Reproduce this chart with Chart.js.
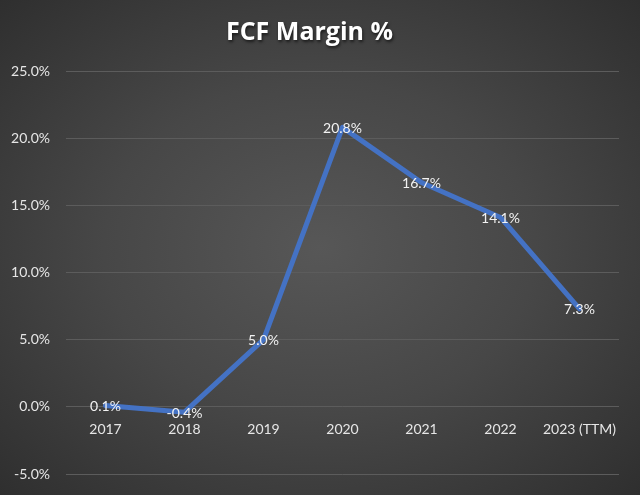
<!DOCTYPE html>
<html>
<head>
<meta charset="utf-8">
<script src="https://cdn.jsdelivr.net/npm/chart.js@4.4.1/dist/chart.umd.min.js"></script>
<style>
  html, body { margin: 0; padding: 0; }
  body {
    width: 640px; height: 495px; overflow: hidden;
    background: radial-gradient(ellipse 75% 75% at 50% 50%, #575757 0%, #474747 45%, #2c2c2c 100%);
  }
  #wrap { position: relative; width: 640px; height: 495px; }
</style>
</head>
<body>
<div id="wrap"><canvas id="c" width="640" height="495"></canvas></div>
<script>
const categories = ["2017", "2018", "2019", "2020", "2021", "2022", "2023 (TTM)"];
const fcfMargin = [0.1, -0.4, 5.0, 20.8, 16.7, 14.1, 7.3];
const yTicks = [-5, 0, 5, 10, 15, 20, 25];
const chartTitle = "FCF Margin %";

const valueLabels = {
  id: 'valueLabels',
  afterDatasetsDraw(chart) {
    const ctx = chart.ctx;
    const meta = chart.getDatasetMeta(0);
    ctx.save();
    ctx.font = '14px Lato, "Open Sans", sans-serif';
    ctx.fillStyle = '#f2f2f2';
    ctx.textAlign = 'center';
    ctx.textBaseline = 'middle';
    meta.data.forEach((pt, i) => {
      ctx.fillText(fcfMargin[i].toFixed(1) + '%', pt.x, pt.y + 1);
    });
    ctx.restore();
  }
};

const titleShadow = {
  id: 'titleShadow',
  afterInit(chart) {
    const tb = chart.titleBlock;
    if (!tb) return;
    const orig = tb.draw.bind(tb);
    tb.draw = function () {
      const ctx = chart.ctx;
      ctx.save();
      ctx.shadowColor = 'rgba(0,0,0,0.6)';
      ctx.shadowBlur = 3;
      ctx.shadowOffsetX = 1;
      ctx.shadowOffsetY = 2;
      orig();
      ctx.restore();
    };
  }
};

new Chart(document.getElementById('c'), {
  type: 'line',
  data: {
    labels: categories,
    datasets: [{
      data: fcfMargin,
      borderColor: '#4472C4',
      borderWidth: 5,
      tension: 0,
      pointRadius: 0,
      pointHoverRadius: 0,
      borderJoinStyle: 'round',
      borderCapStyle: 'round',
      fill: false
    }]
  },
  options: {
    responsive: false,
    animation: false,
    events: [],
    layout: { padding: { left: 0, right: 21, top: 0, bottom: 21 } },
    plugins: {
      legend: { display: false },
      tooltip: { enabled: false },
      title: {
        display: true,
        text: chartTitle,
        color: '#ffffff',
        font: { family: '"Open Sans", Lato, sans-serif', size: 25, weight: 'bold', lineHeight: 1.2 },
        padding: { top: 18, bottom: 23 }
      }
    },
    scales: {
      x: {
        position: { y: 0 },
        offset: true,
        afterFit(scale) { scale.height = 0; },
        grid: { display: false, drawTicks: false, offset: true },
        border: { display: false },
        ticks: {
          color: '#e6e6e6',
          font: { family: 'Lato, "Open Sans", sans-serif', size: 14 },
          padding: 14,
          maxRotation: 0,
          autoSkip: false
        }
      },
      y: {
        min: -5,
        max: 25,
        afterBuildTicks(scale) { scale.ticks = yTicks.map(v => ({ value: v })); },
        afterFit(scale) {
          scale.width = 66;
          scale.paddingTop = 0;
          scale.paddingBottom = 0;
        },
        grid: { color: '#5c5c5c', lineWidth: 1, drawTicks: false },
        border: { display: false },
        ticks: {
          color: '#e6e6e6',
          font: { family: 'Lato, "Open Sans", sans-serif', size: 14 },
          padding: 16,
          callback: v => Number(v).toFixed(1) + '%'
        }
      }
    }
  },
  plugins: [valueLabels, titleShadow]
});
</script>
</body>
</html>
